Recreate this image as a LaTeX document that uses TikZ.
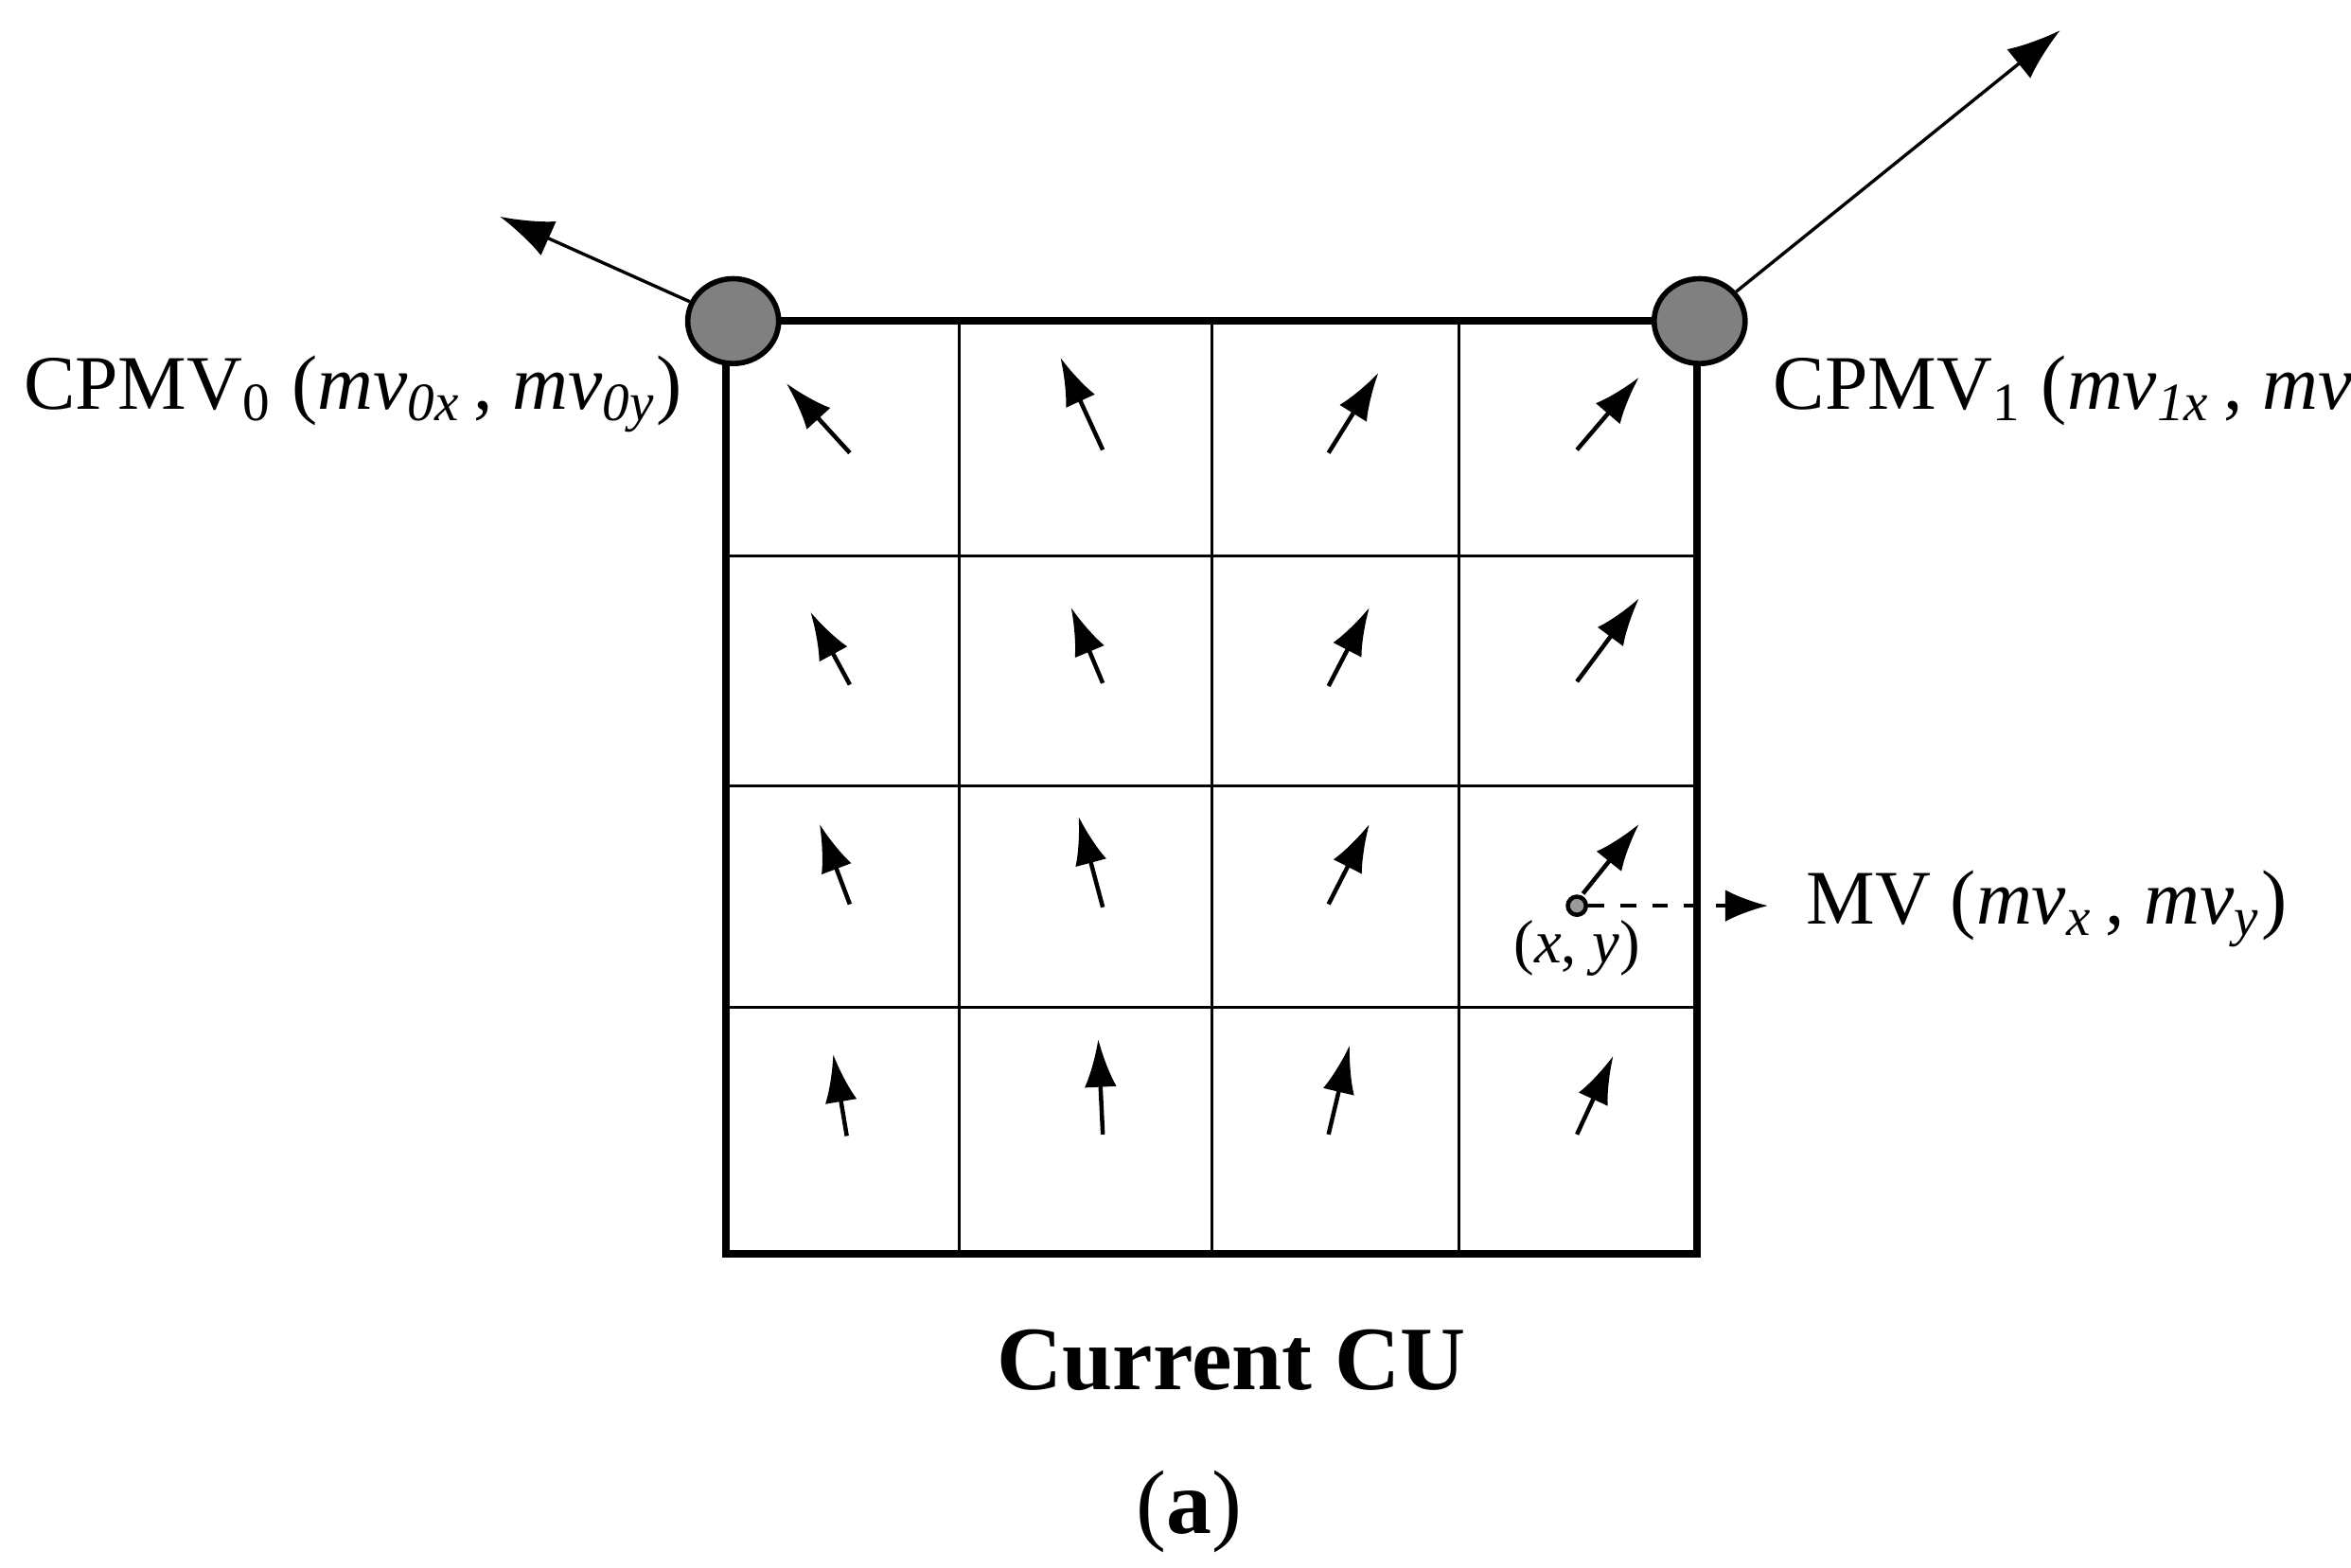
\documentclass[tikz,border=0pt]{standalone}
\usepackage{fontspec}
\setmainfont{Liberation Serif}
\usetikzlibrary{arrows.meta,shapes.geometric}
\begin{document}
\begin{tikzpicture}[x=0.01cm,y=-0.01cm,
  mv/.style={-{Latex[length=9pt,width=6pt]},line width=0.8pt},
  big/.style={-{Latex[length=10pt,width=7pt]},line width=0.6pt},
  cp/.style={ellipse,draw,line width=1pt,fill=black!50,minimum width=0.6cm,minimum height=0.56cm,inner sep=0pt},
  lbl/.style={font=\fontsize{14.5}{16}\selectfont,inner sep=0pt}]
\useasboundingbox (0,0) rectangle (1552,1035);
% grid
\draw[line width=0.5pt] (633,212)--(633,828) (800,212)--(800,828) (963,212)--(963,828)
  (479,367)--(1120,367) (479,519)--(1120,519) (479,665)--(1120,665);
\draw[line width=1.4pt] (479,212) rectangle (1120,828);
% control points
\coordinate (t0) at (330,143);
\coordinate (t1) at (1360,20);
\node[cp] (c0) at (484,212) {};
\node[cp] (c1) at (1122,212) {};
\draw[big] (c0) -- (t0);
\draw[big] (c1) -- (t1);
\node[lbl,anchor=west] (l0) at (15,260) {CPMV\textsubscript{0} (\textit{mv\textsubscript{0x}}\,, \textit{mv\textsubscript{0y}})};
\node[lbl,anchor=west] (l1) at (1170,260) {CPMV\textsubscript{1} (\textit{mv\textsubscript{1x}}\,, \textit{mv\textsubscript{1y}})};
% small MVs
\foreach \a/\b/\c/\d [count=\i] in {561/299/519/253,728/297/700/236,877/299/910/246,1041/297/1082/249,
  561/452/535/404,728/451/707/401,877/453/904/401,1041/450/1082/395,
  561/597/541/544,728/599/712/539,877/597/904/544,1045/590/1082/544,
  559/750/550/696,728/749/725/686,877/749/891/690,1041/749/1065/697}{
  \coordinate (s\i) at (\a,\b); \coordinate (e\i) at (\c,\d);
  \draw[mv] (s\i) -- (e\i);}
\node[circle,draw,line width=0.8pt,fill=black!40,minimum size=0.12cm,inner sep=0pt] (p) at (1041,598) {};
\coordinate (pe) at (1167,598);
\draw[-{Latex[length=8pt,width=6pt]},dashed,line width=0.6pt] (p) -- (pe);
\node[lbl,font=\fontsize{11.5}{13}\selectfont] (xy) at (1041,626) {(\textit{x}, \textit{y})};
\node[lbl,anchor=west] (mvl) at (1192,600) {MV (\textit{mv\textsubscript{x}}\,, \textit{mv\textsubscript{y}})};
\node[lbl,font=\fontsize{17}{19}\selectfont\bfseries] (cu) at (813,898) {Current CU};
\node[lbl,font=\fontsize{17}{19}\selectfont] (a) at (785,998) {(\textbf{a})};
\end{tikzpicture}
\end{document}
